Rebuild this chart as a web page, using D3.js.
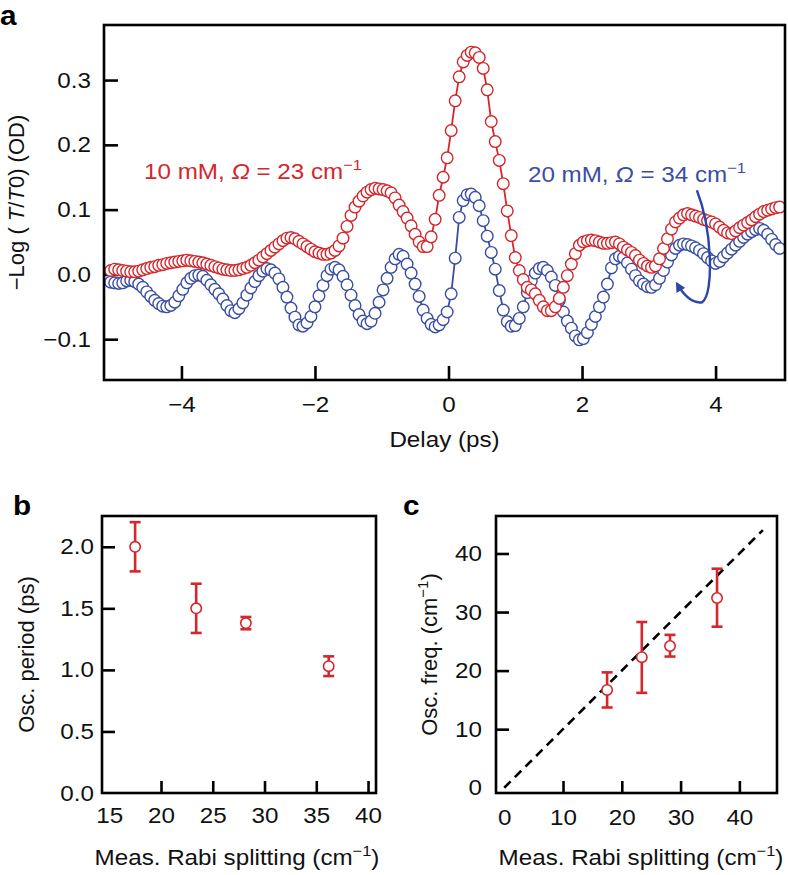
<!DOCTYPE html>
<html><head><meta charset="utf-8">
<script src="https://cdn.jsdelivr.net/npm/d3@7"></script>
<style>
body{margin:0;background:#fff}
svg{display:block;font-family:"Liberation Sans",Arial,Helvetica,sans-serif}
</style></head><body>
<svg id="chart" width="788" height="875"></svg>
<script>
// ---------- DATA ----------
const delays=[-5.06,-5.00,-4.94,-4.88,-4.82,-4.76,-4.70,-4.64,-4.58,-4.52,
-4.46,-4.40,-4.34,-4.28,-4.22,-4.16,-4.10,-4.04,-3.98,-3.92,
-3.86,-3.80,-3.74,-3.68,-3.62,-3.56,-3.50,-3.44,-3.38,-3.32,
-3.26,-3.20,-3.14,-3.08,-3.02,-2.96,-2.90,-2.84,-2.78,-2.72,
-2.66,-2.60,-2.54,-2.48,-2.42,-2.36,-2.30,-2.24,-2.18,-2.12,
-2.06,-2.00,-1.94,-1.88,-1.82,-1.76,-1.70,-1.64,-1.58,-1.52,
-1.46,-1.40,-1.34,-1.28,-1.22,-1.16,-1.10,-1.04,-0.98,-0.92,
-0.86,-0.80,-0.74,-0.68,-0.62,-0.56,-0.50,-0.44,-0.38,-0.32,
-0.26,-0.20,-0.14,-0.08,-0.02,0.04,0.10,0.16,0.22,0.28,
0.34,0.40,0.46,0.52,0.58,0.64,0.70,0.76,0.82,0.88,
0.94,1.00,1.06,1.12,1.18,1.24,1.30,1.36,1.42,1.48,
1.54,1.60,1.66,1.72,1.78,1.84,1.90,1.96,2.02,2.08,
2.14,2.20,2.26,2.32,2.38,2.44,2.50,2.56,2.62,2.68,
2.74,2.80,2.86,2.92,2.98,3.04,3.10,3.16,3.22,3.28,
3.34,3.40,3.46,3.52,3.58,3.64,3.70,3.76,3.82,3.88,
3.94,4.00,4.06,4.12,4.18,4.24,4.30,4.36,4.42,4.48,
4.54,4.60,4.66,4.72,4.78,4.84,4.90,4.96];

const od10mM=[0.006,0.008,0.007,0.006,0.005,0.004,0.004,0.005,0.007,0.009,
0.011,0.012,0.014,0.015,0.017,0.018,0.019,0.020,0.021,0.022,
0.021,0.020,0.019,0.018,0.016,0.014,0.012,0.010,0.008,0.007,
0.006,0.006,0.007,0.009,0.011,0.014,0.018,0.022,0.027,0.032,
0.037,0.042,0.047,0.052,0.056,0.057,0.055,0.051,0.047,0.043,
0.039,0.035,0.033,0.031,0.031,0.033,0.037,0.044,0.056,0.074,
0.091,0.104,0.113,0.121,0.127,0.131,0.133,0.132,0.131,0.129,
0.126,0.118,0.107,0.097,0.087,0.075,0.062,0.050,0.043,0.043,
0.058,0.085,0.122,0.150,0.180,0.222,0.268,0.305,0.328,0.338,
0.343,0.342,0.335,0.318,0.285,0.236,0.205,0.176,0.140,0.098,
0.060,0.026,0.006,-0.008,-0.020,-0.024,-0.030,-0.040,-0.050,-0.056,
-0.056,-0.050,-0.037,-0.020,-0.002,0.016,0.032,0.045,0.050,0.052,
0.053,0.052,0.050,0.048,0.048,0.049,0.050,0.047,0.042,0.038,
0.034,0.029,0.022,0.017,0.013,0.011,0.013,0.024,0.040,0.055,
0.070,0.081,0.087,0.092,0.094,0.092,0.090,0.088,0.085,0.083,
0.081,0.078,0.073,0.068,0.064,0.063,0.067,0.072,0.076,0.080,
0.084,0.089,0.093,0.097,0.099,0.101,0.103,0.104];

const od20mM=[-0.012,-0.013,-0.014,-0.013,-0.010,-0.009,-0.011,-0.015,-0.020,-0.027,
-0.034,-0.040,-0.045,-0.049,-0.050,-0.048,-0.043,-0.033,-0.023,-0.013,
-0.006,-0.002,-0.001,-0.003,-0.009,-0.016,-0.023,-0.030,-0.038,-0.048,
-0.056,-0.059,-0.053,-0.044,-0.032,-0.021,-0.011,-0.002,0.005,0.009,
0.007,0.002,-0.007,-0.020,-0.035,-0.052,-0.066,-0.078,-0.080,-0.075,
-0.065,-0.050,-0.033,-0.017,-0.002,0.008,0.011,0.007,-0.003,-0.016,
-0.032,-0.048,-0.062,-0.072,-0.076,-0.072,-0.060,-0.043,-0.024,-0.006,
0.011,0.024,0.031,0.028,0.016,0.002,-0.015,-0.034,-0.055,-0.068,
-0.077,-0.081,-0.078,-0.070,-0.058,-0.030,0.025,0.088,0.114,0.123,
0.124,0.119,0.106,0.083,0.059,0.034,0.008,-0.025,-0.055,-0.073,
-0.080,-0.079,-0.068,-0.050,-0.028,-0.010,0.002,0.009,0.011,0.006,
-0.004,-0.017,-0.040,-0.058,-0.072,-0.083,-0.095,-0.101,-0.099,-0.090,
-0.077,-0.065,-0.050,-0.035,-0.015,0.010,0.024,0.028,0.026,0.018,
0.008,-0.002,-0.010,-0.015,-0.019,-0.020,-0.016,-0.006,0.006,0.019,
0.030,0.040,0.045,0.047,0.046,0.044,0.041,0.037,0.032,0.026,
0.021,0.017,0.020,0.027,0.033,0.039,0.045,0.051,0.057,0.062,
0.066,0.069,0.071,0.068,0.062,0.054,0.046,0.040];

const yTicksA=[-0.1,0,0.1,0.2,0.3];
const xTicksA=[-4,-2,0,2,4];

const rabiSplitting=[17.5,23.4,28.2,36.2];
const oscPeriod=[2.0,1.5,1.38,1.03];
const oscPeriodErr=[0.2,0.2,0.05,0.08];
const xTicksB=[15,20,25,30,35,40];
const yTicksB=[0,0.5,1.0,1.5,2.0];

const oscFreq=[16.7,22.3,24.2,32.4];
const oscFreqLow=[13.7,16.2,22.4,27.5];
const oscFreqHigh=[19.7,28.3,26.1,37.4];
const ticksC=[0,10,20,30,40];
const diagonalEnds=[0,44];

// ---------- STYLE ----------
const RED='#d4272d', BLUE='#3b4ea2', ARROW='#2c46a8', INK='#111';
const FS=22, SX=1.1;   // glyphs of the original are a bit wider than Liberation Sans
const svg=d3.select('#chart');

function styleAxis(g, hideVals, left){
  g.select('.domain').remove();
  g.selectAll('.tick line').attr('stroke','#000').attr('stroke-width',2.6);
  const tx=g.selectAll('.tick text').attr('font-size',FS).attr('fill',INK)
    .attr('font-family','"Liberation Sans",Arial,Helvetica,sans-serif')
    .attr('transform',`scale(${SX},1)`);
  if(left) tx.attr('x',function(){return +this.getAttribute('x')/SX;});
  if(hideVals) g.selectAll('.tick').filter(d=>hideVals.includes(d)).select('line').remove();
  g.attr('font-size',null).attr('font-family',null);
}
function frame(x,y){
  const [x0,x1]=x.range(), [y0,y1]=y.range();
  svg.append('rect').attr('x',x0).attr('y',y1).attr('width',x1-x0).attr('height',y0-y1)
    .attr('fill','none').attr('stroke','#000').attr('stroke-width',2.6);
}
function addParts(sel, parts){
  parts.forEach(p=>{
    const t=sel.append('tspan').text(p.t);
    if(p.i) t.attr('font-style','italic');
    if(p.sup) t.attr('font-size',FS*0.68).attr('dy',-9);
    if(p.unsup) t.attr('dy',9);
  });
  return sel;
}
function hText(x,y,anchor,color,parts,size,weight){
  const t=svg.append('text').attr('transform',`translate(${x},${y}) scale(${SX},1)`)
    .attr('text-anchor',anchor).attr('font-size',size||FS).attr('fill',color);
  if(weight) t.attr('font-weight',weight);
  return addParts(t,parts);
}
function vText(x,y,parts){
  const t=svg.append('text').attr('transform',`translate(${x},${y}) rotate(-90)`)
    .attr('text-anchor','middle').attr('font-size',FS).attr('fill',INK);
  return addParts(t,parts);
}

// ---------- PANEL A ----------
const xA=d3.scaleLinear().domain([-5.16,5.04]).range([104,785]);
const yA=d3.scaleLinear().domain([-0.163,0.385]).range([380,25]);

const axA_x=svg.append('g').attr('transform',`translate(0,${yA.range()[0]})`)
  .call(d3.axisBottom(xA).tickValues(xTicksA).tickSizeInner(-14).tickSizeOuter(0).tickPadding(16).tickFormat(d3.format('d')));
styleAxis(axA_x);
const axA_y=svg.append('g').attr('transform',`translate(${xA.range()[0]},0)`)
  .call(d3.axisLeft(yA).tickValues(yTicksA).tickSizeInner(-14).tickSizeOuter(0).tickPadding(13).tickFormat(d3.format('.1f')));
styleAxis(axA_y,null,true);

function series(vals,color){
  const g=svg.append('g');
  const line=d3.line().x((d,i)=>xA(delays[i])).y(d=>yA(d));
  g.append('path').attr('d',line(vals)).attr('fill','none').attr('stroke',color).attr('stroke-width',1.8);
  g.selectAll('circle').data(vals).join('circle')
    .attr('cx',(d,i)=>xA(delays[i])).attr('cy',d=>yA(d)).attr('r',5.8)
    .attr('fill','#fff').attr('stroke',color).attr('stroke-width',1.4);
}
series(od20mM,BLUE);
series(od10mM,RED);
frame(xA,yA);

// annotations
hText(xA(-4.56),yA(0.147),'start',RED,[{t:'10 mM, '},{t:'Ω',i:true},{t:' = 23 cm'},{t:'−1',sup:true}]);
hText(xA(1.19),yA(0.143),'start',BLUE,[{t:'20 mM, '},{t:'Ω',i:true},{t:' = 34 cm'},{t:'−1',sup:true}]);

svg.append('defs').append('marker').attr('id','ah').attr('viewBox','0 0 10 10')
  .attr('refX',8).attr('refY',5).attr('markerWidth',11).attr('markerHeight',10)
  .attr('markerUnits','userSpaceOnUse').attr('orient','auto')
  .append('path').attr('d','M0,0 L10,5 L0,10 z').attr('fill',ARROW);
const ap=d3.path();
ap.moveTo(xA(3.72),yA(0.13));
ap.bezierCurveTo(xA(3.95),yA(0.07),xA(3.98),yA(-0.03),xA(3.80),yA(-0.043));
ap.quadraticCurveTo(xA(3.60),yA(-0.046),xA(3.42),yA(-0.014));
svg.append('path').attr('d',ap.toString()).attr('fill','none').attr('stroke',ARROW)
  .attr('stroke-width',2.4).attr('marker-end','url(#ah)');

// titles
hText((xA.range()[0]+xA.range()[1])/2,447,'middle',INK,[{t:'Delay (ps)'}]);
vText(24,(yA.range()[0]+yA.range()[1])/2,[{t:'−Log ( '},{t:'T',i:true},{t:'/'},{t:'T',i:true},{t:'0) (OD)'}]);

// ---------- PANEL B ----------
const xB=d3.scaleLinear().domain([14.3,40.77]).range([102,376]);
const yB=d3.scaleLinear().domain([0,2.25]).range([793,516]);
const axB_x=svg.append('g').attr('transform',`translate(0,${yB.range()[0]})`)
  .call(d3.axisBottom(xB).tickValues(xTicksB).tickSizeInner(-12).tickSizeOuter(0).tickPadding(14).tickFormat(d3.format('d')));
styleAxis(axB_x,[15]);
const axB_y=svg.append('g').attr('transform',`translate(${xB.range()[0]},0)`)
  .call(d3.axisLeft(yB).tickValues(yTicksB).tickSizeInner(-13).tickSizeOuter(0).tickPadding(8).tickFormat(d3.format('.1f')));
styleAxis(axB_y,[0],true);

function errBars(x,y,xs,lo,hi,mid){
  const g=svg.append('g');
  xs.forEach((xv,i)=>{
    g.append('line').attr('x1',x(xv)).attr('x2',x(xv)).attr('y1',y(lo[i])).attr('y2',y(hi[i]))
      .attr('stroke',RED).attr('stroke-width',2.6);
    [lo[i],hi[i]].forEach(v=>g.append('line').attr('x1',x(xv)-5.5).attr('x2',x(xv)+5.5)
      .attr('y1',y(v)).attr('y2',y(v)).attr('stroke',RED).attr('stroke-width',2.6));
  });
  g.selectAll('circle').data(mid).join('circle').attr('cx',(d,i)=>x(xs[i])).attr('cy',d=>y(d))
    .attr('r',5.2).attr('fill','#fff').attr('stroke',RED).attr('stroke-width',1.6);
}
errBars(xB,yB,rabiSplitting,oscPeriod.map((v,i)=>v-oscPeriodErr[i]),oscPeriod.map((v,i)=>v+oscPeriodErr[i]),oscPeriod);
frame(xB,yB);

hText(237,865,'middle',INK,[{t:'Meas. Rabi splitting (cm'},{t:'−1',sup:true},{t:')',unsup:true}]);
vText(34,(yB.range()[0]+yB.range()[1])/2,[{t:'Osc. period (ps)'}]);

// ---------- PANEL C ----------
const xC=d3.scaleLinear().domain([-1.4,46.4]).range([496,777]);
const yC=d3.scaleLinear().domain([-0.9,46.4]).range([793,516]);
const axC_x=svg.append('g').attr('transform',`translate(0,${yC.range()[0]})`)
  .call(d3.axisBottom(xC).tickValues(ticksC).tickSizeInner(-12).tickSizeOuter(0).tickPadding(16).tickFormat(d3.format('d')));
styleAxis(axC_x,[0]);
const axC_y=svg.append('g').attr('transform',`translate(${xC.range()[0]},0)`)
  .call(d3.axisLeft(yC).tickValues(ticksC).tickSizeInner(-13).tickSizeOuter(0).tickPadding(14).tickFormat(d3.format('d')));
styleAxis(axC_y,[0],true);

svg.append('line').attr('x1',xC(diagonalEnds[0])).attr('y1',yC(diagonalEnds[0]))
  .attr('x2',xC(diagonalEnds[1])).attr('y2',yC(diagonalEnds[1]))
  .attr('stroke','#000').attr('stroke-width',2.6).attr('stroke-dasharray','9,6');
errBars(xC,yC,rabiSplitting,oscFreqLow,oscFreqHigh,oscFreq);
frame(xC,yC);

hText(641,865,'middle',INK,[{t:'Meas. Rabi splitting (cm'},{t:'−1',sup:true},{t:')',unsup:true}]);
vText(437,(yC.range()[0]+yC.range()[1])/2,[{t:'Osc. freq. (cm'},{t:'−1',sup:true},{t:')',unsup:true}]);

// panel letters
[['a',0,25],['b',13,515],['c',403,515]].forEach(([l,x,y])=>
  hText(x,y,'start','#000',[{t:l}],27,'bold'));
</script>
</body></html>
